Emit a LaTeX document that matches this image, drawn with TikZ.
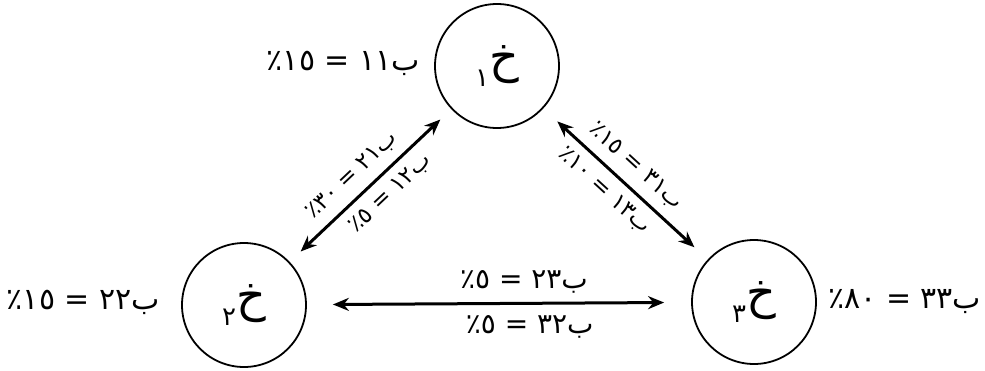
\documentclass[tikz,border=0pt]{standalone}
\usepackage{fontspec}
\newfontfamily\arabicfont[Script=Arabic]{DejaVu Sans}
\TeXXeTstate=1
\usetikzlibrary{arrows.meta}
\newcommand{\blab}[2]{\arabicfont\beginR ب\beginL#1\endL{} = \beginL#2\endL ٪\endR}
\newcommand{\khah}[1]{\arabicfont\fontsize{46}{50}\selectfont\beginR خ\raisebox{-14pt}{\fontsize{26}{26}\selectfont #1}\endR}
\begin{document}
\begin{tikzpicture}[x=1pt,y=-1pt,
  state/.style={circle,draw,line width=1.8pt,minimum size=124pt,inner sep=0pt},
  link/.style={line width=3pt,{Stealth[length=16pt,width=13pt]}-{Stealth[length=16pt,width=13pt]}},
  biglab/.style={font=\fontsize{30}{34}\selectfont,inner sep=0pt},
  midlab/.style={font=\fontsize{28}{32}\selectfont,inner sep=0pt},
  smalllab/.style={font=\fontsize{23}{27}\selectfont,inner sep=0pt}]
\useasboundingbox (0,0) rectangle (985,370);
\node[state] (k1) at (497,66) {\khah{١}};
\node[state] (k2) at (244,305) {\khah{٢}};
\node[state] (k3) at (754,302) {\khah{٣}};
\node[biglab,anchor=east] (l11) at (420,63) {\blab{١١}{١٥}};
\node[biglab,anchor=east] (l22) at (160,302) {\blab{٢٢}{١٥}};
\node[biglab,anchor=west] (l33) at (828,302) {\blab{٣٣}{٨٠}};
\draw[link,shorten <=15pt,shorten >=15pt] (k2) -- (k1)
  node[pos=0.47,sloped,above=9pt,smalllab] (l21) {\blab{٢١}{٣٠}}
  node[pos=0.54,sloped,below=9pt,smalllab] (l12) {\blab{١٢}{٥}};
\draw[link,shorten <=19pt,shorten >=18pt] (k1) -- (k3)
  node[pos=0.48,sloped,above=9pt,smalllab] (l31) {\blab{٣١}{١٥}}
  node[pos=0.45,sloped,below=9pt,smalllab] (l13) {\blab{١٣}{١٠}};
\draw[link,shorten <=26pt,shorten >=27pt] (k2) -- (k3)
  node[pos=0.565,above=9pt,midlab] (l23) {\blab{٢٣}{٥}}
  node[pos=0.58,below=11pt,midlab] (l32) {\blab{٣٢}{٥}};
\end{tikzpicture}
\end{document}
